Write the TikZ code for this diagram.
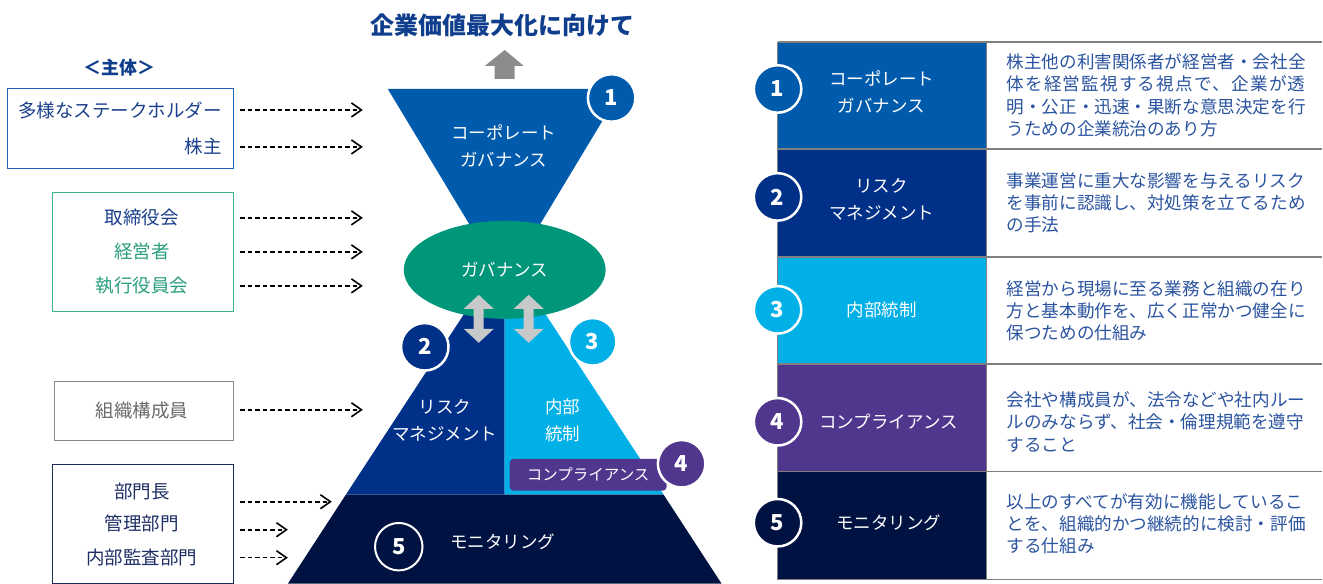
\documentclass[tikz,border=0pt]{standalone}
\usepackage{fontspec}
\setmainfont{Noto Sans CJK JP}
\usetikzlibrary{arrows.meta,shapes.geometric}
\definecolor{cgblue}{HTML}{005BAC}
\definecolor{rmnavy}{HTML}{003087}
\definecolor{iccyan}{HTML}{00B0E6}
\definecolor{cppurple}{HTML}{51368E}
\definecolor{mondark}{HTML}{001242}
\definecolor{govgreen}{HTML}{00967A}
\definecolor{titleblue}{HTML}{0F3E8C}
\definecolor{txtblue}{HTML}{2B54A0}
\definecolor{boxblue}{HTML}{1F62B0}
\definecolor{boxteal}{HTML}{3DAF94}
\definecolor{boxgray}{HTML}{8A8A8A}
\definecolor{boxnavy}{HTML}{1C2A5C}
\definecolor{lbltxt}{HTML}{1A3F8C}
\definecolor{tealtxt}{HTML}{2A9D7E}
\definecolor{graytxt}{HTML}{6B6B6B}
\definecolor{navytxt}{HTML}{1F2F66}
\definecolor{uparrow}{HTML}{8C8C8C}
\definecolor{dblarrowc}{HTML}{C6C8C9}
\definecolor{gridgray}{HTML}{7F7F7F}
\begin{document}
\begin{tikzpicture}[x=1pt,y=-1pt,
  wtxt/.style={text=white,font=\fontsize{17.5}{27}\selectfont,align=center,inner sep=0pt},
  num/.style={circle,draw=white,line width=2.5pt,minimum size=47.5pt,inner sep=0pt,text=white,font=\fontsize{22}{22}\selectfont\bfseries},
  dasharrow/.style={draw=black,line width=1.6pt,dash pattern=on 4.5pt off 3pt,-{Straight Barb[length=10pt,width=14pt,line width=1.6pt]}},
  lbl/.style={font=\fontsize{18.5}{18.5}\selectfont,inner sep=0pt},
  sbox/.style={line width=1.3pt,anchor=north west,inner sep=0pt},
  desc/.style={anchor=west,text=txtblue,font=\fontsize{17.6}{22.4}\selectfont,align=left,inner sep=0pt},
  dblarr/.pic={\fill[dblarrowc] (0,-24) -- (15,-10) -- (5,-10) -- (5,10) -- (15,10) -- (0,24) -- (-15,10) -- (-5,10) -- (-5,-10) -- (-15,-10) -- cycle;}
]
\fill[white] (0,0) rectangle (1323,584);

% title and up arrow
\node[font=\fontsize{24}{24}\selectfont\bfseries,text=titleblue] (title) at (503,25) {企業価値最大化に向けて};
\fill[uparrow] (505,50) -- (524,66) -- (515,66) -- (515,79) -- (495,79) -- (495,66) -- (485,66) -- cycle;

% corporate governance funnel
\fill[cgblue] (388,89) -- (622,89) -- (531,240) -- (479,240) -- cycle;
\node[wtxt] (cgtxt) at (504,146) {コーポレート\\ガバナンス};

% pyramid
\fill[rmnavy] (505,252) -- (505,495) -- (346,495) -- cycle;
\fill[iccyan] (505,252) -- (664,495) -- (505,495) -- cycle;
\fill[mondark] (346,495) -- (664,495) -- (722,584) -- (288,584) -- cycle;
\node[wtxt] (rmtxt) at (445,421) {リスク\\マネジメント};
\node[wtxt] (ictxt) at (563,421) {内部\\統制};
\node[wtxt] (montxt) at (503,542) {モニタリング};

% governance ellipse
\node[ellipse,fill=govgreen,minimum width=202pt,minimum height=98pt,inner sep=0pt,text=white,font=\fontsize{17.5}{17.5}\selectfont] (gov) at (505,270) {ガバナンス};
\pic at (479,319) {dblarr};
\pic at (529,319) {dblarr};

% compliance box
\node[fill=cppurple,rounded corners=4pt,minimum width=157pt,minimum height=32pt,inner sep=0pt,text=white,font=\fontsize{15.5}{15.5}\selectfont] (cpbox) at (588.5,475) {コンプライアンス};

% numbered circles
\node[num,fill=cgblue] (n1) at (612,98) {1};
\node[num,fill=rmnavy] (n2) at (425,347) {2};
\node[num,fill=iccyan] (n3) at (593,342) {3};
\node[num,fill=cppurple] (n4) at (682,464) {4};
\node[num,fill=mondark,line width=2pt] (n5) at (399,547) {5};

% left side
\node[font=\fontsize{18}{18}\selectfont\bfseries,text=titleblue] (shutai) at (120,68) {＜主体＞};

\node[sbox,draw=boxblue,minimum width=226pt,minimum height=80pt] (b1) at (7,88) {};
\node[lbl,anchor=east,text=lbltxt] (t1) at (222,110) {多様なステークホルダー};
\node[lbl,anchor=east,text=lbltxt] (t2) at (222,147) {株主};

\node[sbox,draw=boxteal,minimum width=181pt,minimum height=119pt] (b2) at (52,192) {};
\node[lbl,text=lbltxt] (t3) at (142,218) {取締役会};
\node[lbl,text=tealtxt] (t4) at (142,252) {経営者};
\node[lbl,text=tealtxt] (t5) at (142,286) {執行役員会};

\node[sbox,draw=boxgray,minimum width=179pt,minimum height=59pt] (b3) at (54,381) {};
\node[lbl,text=graytxt] (t6) at (142,411) {組織構成員};

\node[sbox,draw=boxnavy,minimum width=181pt,minimum height=119pt] (b4) at (52,464) {};
\node[lbl,text=navytxt] (t7) at (142,492) {部門長};
\node[lbl,text=navytxt] (t8) at (142,524) {管理部門};
\node[lbl,text=navytxt] (t9) at (142,558) {内部監査部門};

\coordinate (e1) at (363,110);
\coordinate (e2) at (363,147);
\coordinate (e3) at (363,218);
\coordinate (e4) at (363,252);
\coordinate (e5) at (363,286);
\coordinate (e6) at (363,410);
\coordinate (e7) at (332,502);
\coordinate (e8) at (288,530);
\coordinate (e9) at (288,558);
\draw[dasharrow] ([xshift=6pt]b1.east |- e1) -- (e1);
\draw[dasharrow] ([xshift=6pt]b1.east |- e2) -- (e2);
\draw[dasharrow] ([xshift=6pt]b2.east |- e3) -- (e3);
\draw[dasharrow] ([xshift=6pt]b2.east |- e4) -- (e4);
\draw[dasharrow] ([xshift=6pt]b2.east |- e5) -- (e5);
\draw[dasharrow] ([xshift=6pt]b3.east |- e6) -- (e6);
\draw[dasharrow] ([xshift=6pt]b4.east |- e7) -- (e7);
\draw[dasharrow] ([xshift=6pt]b4.east |- e8) -- (e8);
\draw[dasharrow] ([xshift=6pt]b4.east |- e9) -- (e9);

% table
\fill[cgblue] (778,42) rectangle (987,149);
\fill[rmnavy] (778,149) rectangle (987,257);
\fill[iccyan] (778,257) rectangle (987,364);
\fill[cppurple] (778,364) rectangle (987,472);
\fill[mondark] (778,472) rectangle (987,580);
\draw[gridgray,line width=1.5pt] (778,42) -- (1323,42) (778,149) -- (1323,149) (778,257) -- (1323,257)
  (778,364) -- (1323,364) (778,472) -- (1323,472) (778,580) -- (1323,580)
  (778,42) -- (778,580) (987,42) -- (987,580);

\node[wtxt] (c1) at (882,92) {コーポレート\\ガバナンス};
\node[wtxt] (c2) at (882,199) {リスク\\マネジメント};
\node[wtxt] (c3) at (882,310) {内部統制};
\node[wtxt] (c4) at (889,422) {コンプライアンス};
\node[wtxt] (c5) at (889,523) {モニタリング};

\node[num,fill=cgblue] (m1) at (778,89) {1};
\node[num,fill=rmnavy] (m2) at (778,197) {2};
\node[num,fill=iccyan] (m3) at (778,310) {3};
\node[num,fill=cppurple] (m4) at (778,422) {4};
\node[num,fill=mondark] (m5) at (778,523) {5};

\node[desc] (d1) at (1007,95.5) {株主他の利害関係者が経営者・会社全\\\hbox to 299pt{体\hfil を\hfil 経\hfil 営\hfil 監\hfil 視\hfil す\hfil る\hfil 視\hfil 点\hfil で\hfil 、\hfil 企\hfil 業\hfil が\hfil 透}\\明・公正・迅速・果断な意思決定を行\\うための企業統治のあり方};
\node[desc] (d2) at (1007,203) {事業運営に重大な影響を与えるリスク\\を事前に認識し、対処策を立てるため\\の手法};
\node[desc] (d3) at (1007,311) {経営から現場に至る業務と組織の在り\\方と基本動作を、広く正常かつ健全に\\保つための仕組み};
\node[desc] (d4) at (1007,422) {会社や構成員が、法令などや社内ルー\\ルのみならず、社会・倫理規範を遵守\\すること};
\node[desc] (d5) at (1007,524) {以上のすべてが有効に機能しているこ\\とを、組織的かつ継続的に検討・評価\\する仕組み};
\end{tikzpicture}
\end{document}
